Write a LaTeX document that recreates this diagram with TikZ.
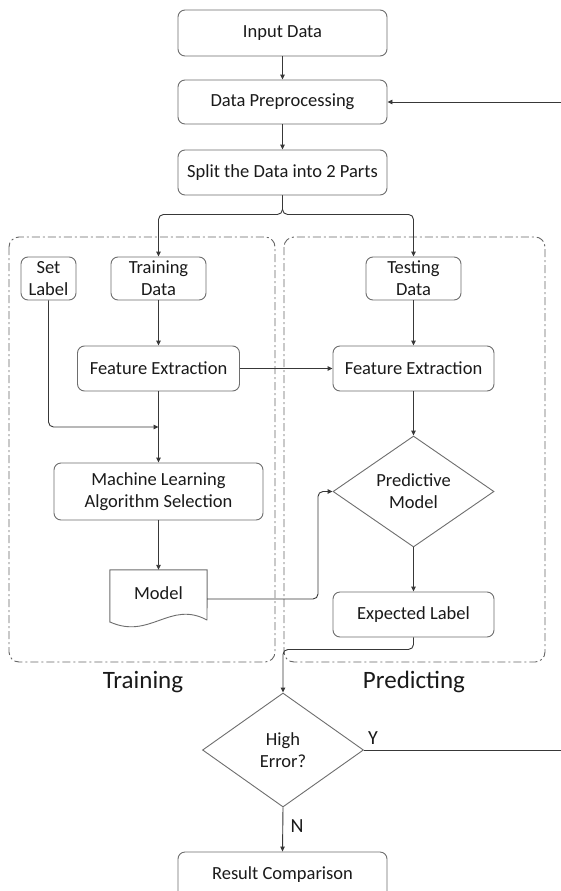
\documentclass[tikz,border=0pt]{standalone}
\usepackage{fontspec}
\setmainfont{Carlito}
\usetikzlibrary{arrows.meta,shapes.geometric}
\definecolor{boxgray}{HTML}{6E6E6E}
\definecolor{framegray}{HTML}{666666}
\definecolor{linegray}{HTML}{383838}
\definecolor{txt}{HTML}{1A1A1A}
\begin{document}
\begin{tikzpicture}[x=1pt,y=-1pt,
  box/.style={draw=boxgray, line width=0.9pt, rounded corners=7pt, align=center,
    font=\fontsize{18.5}{22}\selectfont, text=txt, inner sep=0pt},
  dmd/.style={draw=boxgray, line width=0.9pt, shape=diamond, align=center,
    font=\fontsize{18.5}{22}\selectfont, text=txt, inner sep=0pt},
  conn/.style={draw=linegray, line width=0.9pt, rounded corners=5pt},
  arr/.style={conn, -{Triangle[length=5pt,width=4.5pt]}},
  frame/.style={draw=framegray, line width=0.9pt, rounded corners=10pt,
    dash pattern=on 8pt off 3pt on 2pt off 3pt},
  grouplabel/.style={font=\fontsize{25}{28}\selectfont, text=txt},
  yn/.style={font=\fontsize{20}{24}\selectfont, text=txt}
]
\clip (0,0) rectangle (561,891);
\fill[white] (0,0) rectangle (561,891);

% group frames
\draw[frame] (9,237) rectangle (275,662);
\draw[frame] (284,237) rectangle (545,662);
\node[grouplabel] (ltrain) at (143,682) {Training};
\node[grouplabel] (lpred) at (414,682) {Predicting};

% top chain
\node[box, minimum width=209pt, minimum height=46pt] (in) at (282.5,33) {Input Data};
\node[box, minimum width=209pt, minimum height=44pt] (pre) at (282.5,102) {Data Preprocessing};
\node[box, minimum width=209pt, minimum height=45pt] (split) at (282.5,172.5) {Split the Data into 2 Parts};

% training
\node[box, minimum width=55pt, minimum height=43pt] (setl) at (48.5,278.5) {Set\\Label};
\node[box, minimum width=95pt, minimum height=43pt] (trd) at (158.5,278.5) {Training\\Data};
\node[box, minimum width=162pt, minimum height=45pt] (fe1) at (158.5,368.5) {Feature Extraction};
\node[box, minimum width=209pt, minimum height=57pt] (ml) at (158.5,491.5) {Machine Learning\\Algorithm Selection};
\node[font=\fontsize{18.5}{22}\selectfont, text=txt, minimum width=97pt, minimum height=52pt, inner sep=0pt] (model) at (158.5,596) {\raisebox{5pt}{Model}};
\draw[draw=boxgray, line width=0.9pt, line join=round]
  (model.south west) -- (model.north west) -- (model.north east) -- (207,620)
  .. controls (170,600) and (150,640) .. (110,622) -- cycle;
\coordinate (join) at (158.5,427);

% predicting
\node[box, minimum width=95pt, minimum height=43pt] (ted) at (413.5,278.5) {Testing\\Data};
\node[box, minimum width=161pt, minimum height=45pt] (fe2) at (413.5,368.5) {Feature Extraction};
\node[dmd, minimum width=161pt, minimum height=111pt] (pm) at (413.5,491.5) {Predictive\\Model};
\node[box, minimum width=161pt, minimum height=45pt] (el) at (413.5,614.5) {Expected Label};

% bottom
\node[dmd, minimum width=161pt, minimum height=114pt] (he) at (283,750) {High\\Error?};
\node[box, minimum width=209pt, minimum height=46pt] (rc) at (282.5,875) {Result Comparison};
\node[yn] (ylab) at (373,738) {Y};
\node[yn] (nlab) at (297,826) {N};
\coordinate (fbin) at (570,102);
\coordinate (yout) at (570,750);

% connectors
\draw[arr] (in) -- (pre);
\draw[arr] (pre) -- (split);
\draw[arr] (split.south) -- ++(0,19) -| (trd.north);
\draw[arr] (split.south) -- ++(0,19) -| (ted.north);
\draw[arr] (fbin) -- (pre.east);
\draw[arr] (trd) -- (fe1);
\draw[arr] (setl.south) |- (join);
\draw[arr] (fe1) -- (ml);
\draw[arr] (ml) -- (model.north);
\draw[arr] (fe1.east) -- (fe2.west);
\draw[arr] (ted) -- (fe2);
\draw[arr] (fe2) -- (pm.north);
\draw[arr] ([yshift=-3pt]model.east) -| (318,491.5) -- (pm.west);
\draw[arr] (pm.south) -- (el.north);
\draw[arr] (el.south) -- ++(0,12) -| (he.north);
\draw[conn] (he.east) -- (yout);
\draw[arr] (he.south) -- (rc.north);
\end{tikzpicture}
\end{document}
